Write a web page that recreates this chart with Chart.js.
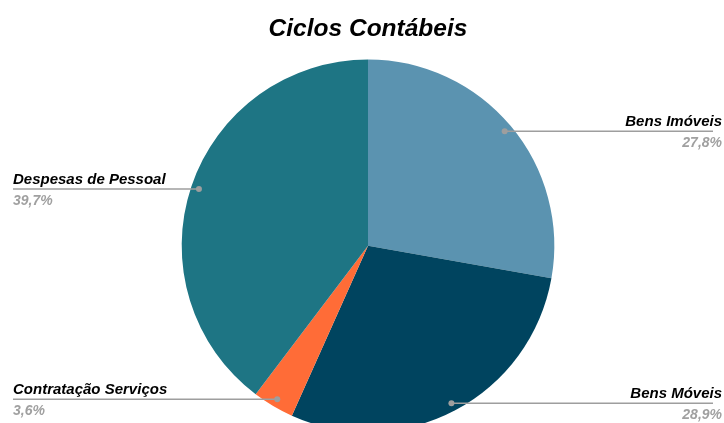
<!DOCTYPE html>
<html>
<head>
<meta charset="utf-8">
<script src="https://cdn.jsdelivr.net/npm/chart.js@4"></script>
<style>
	body { margin: 0; background: #fff; overflow: hidden; }
	#wrap { width: 724px; height: 440px; position: relative; }
</style>
</head>
<body>
<div id="wrap"><canvas id="cicloChart"></canvas></div>
<script>
const categorias = ["Bens Imóveis", "Bens Móveis", "Contratação Serviços", "Despesas de Pessoal"];
const valores = [27.8, 28.9, 3.6, 39.7];
const cores = ["#5b93b0", "#00445f", "#ff6c37", "#1e7584"];

const fonte = "'Liberation Sans', Arial, sans-serif";

// rotulos com linha guia, como no original
const rotulosPlugin = {
	id: "rotulos",
	afterDatasetsDraw(chart) {
		const ctx = chart.ctx;
		const meta = chart.getDatasetMeta(0);
		const total = valores.reduce((a, b) => a + b, 0);
		meta.data.forEach((arc, i) => {
			const p = arc.getProps(["x", "y", "startAngle", "endAngle", "outerRadius"], true);
			const meio = (p.startAngle + p.endAngle) / 2;
			const r = p.outerRadius * 0.957;
			const px = p.x + Math.cos(meio) * r;
			const py = p.y + Math.sin(meio) * r;
			const direita = Math.cos(meio) >= 0;
			const pct = (valores[i] / total * 100).toFixed(1).replace(".", ",") + "%";

			ctx.save();
			ctx.strokeStyle = "#9e9e9e";
			ctx.lineWidth = 1.5;
			ctx.beginPath();
			if (direita) {
				ctx.moveTo(px, py);
				ctx.lineTo(chart.width - 11, py);
			} else {
				ctx.moveTo(13, py);
				ctx.lineTo(px, py);
			}
			ctx.stroke();
			ctx.fillStyle = "#9e9e9e";
			ctx.beginPath();
			ctx.arc(px, py, 3, 0, Math.PI * 2);
			ctx.fill();

			ctx.textAlign = direita ? "right" : "left";
			ctx.textBaseline = "alphabetic";
			const tx = direita ? chart.width - 2 : 13;
			ctx.font = "italic bold 15px " + fonte;
			ctx.fillStyle = "#000";
			ctx.fillText(categorias[i], tx, py - 5);
			ctx.font = "italic bold 14px " + fonte;
			ctx.fillStyle = "#a0a0a0";
			ctx.fillText(pct, tx, py + 16);
			ctx.restore();
		});
	}
};

new Chart(document.getElementById("cicloChart"), {
	type: "pie",
	data: {
		labels: categorias,
		datasets: [{
			data: valores,
			backgroundColor: cores,
			borderWidth: 0
		}]
	},
	options: {
		responsive: true,
		maintainAspectRatio: false,
		animation: false,
		layout: { padding: { left: 12, right: 0, top: 0, bottom: 8 } },
		plugins: {
			legend: { display: false },
			tooltip: { enabled: false },
			title: {
				display: true,
				text: "Ciclos Contábeis",
				color: "#000",
				font: { family: fonte, size: 24.5, weight: "bold", style: "italic" },
				padding: { top: 15, bottom: 15 }
			}
		}
	},
	plugins: [rotulosPlugin]
});
</script>
</body>
</html>
